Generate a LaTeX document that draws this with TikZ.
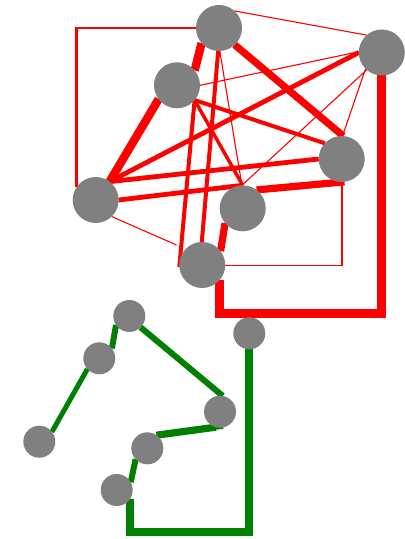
\documentclass[tikz,border=0pt]{standalone}
\usetikzlibrary{calc}
\pgfdeclarelayer{bg}
\pgfdeclarelayer{edges}
\pgfsetlayers{bg,edges,main}
\definecolor{gr}{RGB}{0,128,0}
\definecolor{nodegray}{RGB}{128,128,128}
\begin{document}
\begin{tikzpicture}[x=0.5pt,y=-0.5pt,
  bignode/.style={circle,fill=nodegray,inner sep=0pt,outer sep=0pt,minimum size=23pt},
  smallnode/.style={circle,fill=nodegray,inner sep=0pt,outer sep=0pt,minimum size=16pt},
  rthin/.style={draw=red,line width=0.55pt},
  rmid/.style={draw=red,line width=2pt},
  rthick/.style={draw=red,line width=3.6pt},
  gline/.style={draw=gr,line width=3pt}]
\begin{pgfonlayer}{bg}
\useasboundingbox[fill=white] (0,0) rectangle (400,539);
\end{pgfonlayer}
% red nodes
\node[bignode] (A) at (219,28) {};
\node[bignode] (B) at (381.8,52.5) {};
\node[bignode] (C) at (177,85.3) {};
\node[bignode] (D) at (341.7,159) {};
\node[bignode] (E) at (95.7,200) {};
\node[bignode] (F) at (242.7,208.3) {};
\node[bignode] (G) at (202.2,265) {};
% green nodes
\node[smallnode] (H) at (129.3,316) {};
\node[smallnode] (I) at (99.3,358.3) {};
\node[smallnode] (J) at (39.3,441.7) {};
\node[smallnode] (K) at (220,411.7) {};
\node[smallnode] (L) at (147.3,448.3) {};
\node[smallnode] (M) at (116.7,490) {};
\node[smallnode] (N) at (249.3,333.3) {};
\coordinate (gb) at (0,313.3);
\coordinate (gg) at (0,531.7);
\coordinate (gd) at (0,265.5);
\begin{pgfonlayer}{edges}
% red connectors
\draw[red,line width=1.25pt] (A.center) -| (E.146);
\draw[red,line width=4.2pt] (A.221) -- (C.40);
\draw[rthick] (A.313) -- (D.86);
\draw[rthin] (A.48) -- (B.131);
\draw[rmid] (A.268) -- (G.91);
\draw[rthin] (A.272) -- (F.92);
\draw[rthin] (C.0) -- (B.178);
\draw[red,line width=4.2pt] (C.217) -- (E.53);
\draw[rmid] (C.320) -- (D.137);
\draw[rmid] (C.320) -- (G.185);
\draw[red,line width=1.75pt] (C.320) -- (F.90);
\draw[red,line width=2.4pt] (E.53) -- (B.180);
\draw[red,line width=2.4pt] (E.53) -- (D.180);
\draw[red,line width=2.4pt] (E.0) -- (F.90);
\draw[rthin,shorten >=5pt] (E.314) -- (G.136);
\draw[rthick] (F.53) -- (D.277);
\draw[rthick] (F.220) -- (G.37);
\draw[red,line width=0.9pt] (G.center |- gd) -- (D.south |- gd) -- (D.south);
\draw[red,line width=4.5pt] (G.319) -- (G.319 |- gb) -- (B.south |- gb) -- (B.south);
\draw[rthin] (B.225) -- (D.88);
\draw[rthin] (B.229) -- (F.92);
% green connectors
\draw[gline] (H.214) -- (I.38);
\draw[draw=gr,line width=2.5pt] (I.222) -- (J.38);
\draw[gline] (H.315) -- (K.80);
\draw[draw=gr,line width=3.6pt] (L.55) -- (K.255);
\draw[draw=gr,line width=1.5pt] (L.55) -- (K.282);
\draw[gline] (L.223) -- (M.29);
\draw[draw=gr,line width=4pt] (M.326) -- (M.326 |- gg) -- (N.south |- gg) -- (N.south);
\end{pgfonlayer}
\end{tikzpicture}
\end{document}
